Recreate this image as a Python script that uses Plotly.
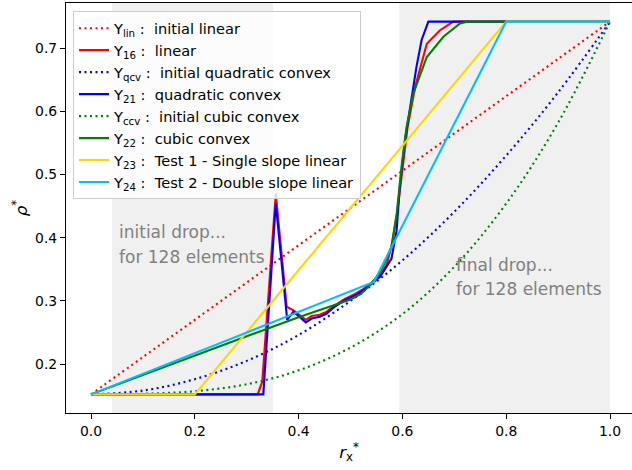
import plotly.graph_objects as go

# ---------------- data ----------------
x_init = [0.0, 0.1, 0.2, 0.3, 0.4, 0.5, 0.6, 0.7, 0.8, 0.9, 1.0]
y_lin = [0.152, 0.211, 0.270, 0.329, 0.388, 0.447, 0.506, 0.565, 0.624, 0.683, 0.742]
y_qcv = [0.152, 0.158, 0.176, 0.205, 0.246, 0.300, 0.364, 0.441, 0.530, 0.630, 0.742]
y_ccv = [0.152, 0.153, 0.157, 0.168, 0.190, 0.226, 0.279, 0.354, 0.454, 0.582, 0.742]

x16 = [0.0, 0.321, 0.330, 0.356, 0.377, 0.390, 0.414, 0.425, 0.441, 0.454, 0.470, 0.489,
       0.509, 0.525, 0.538, 0.557, 0.570, 0.580, 0.590, 0.600, 0.610, 0.625, 0.647, 0.672,
       0.698, 1.0]
y16 = [0.152, 0.152, 0.172, 0.470, 0.291, 0.285, 0.270, 0.276, 0.278, 0.283, 0.293, 0.303,
       0.311, 0.319, 0.327, 0.341, 0.358, 0.390, 0.440, 0.510, 0.575, 0.640, 0.707, 0.728,
       0.742, 0.742]

x21 = [0.0, 0.332, 0.356, 0.378, 0.390, 0.414, 0.425, 0.441, 0.454, 0.470, 0.489, 0.509,
       0.525, 0.538, 0.557, 0.570, 0.579, 0.589, 0.595, 0.605, 0.615, 0.627, 0.637, 0.650, 1.0]
y21 = [0.152, 0.152, 0.454, 0.270, 0.283, 0.266, 0.272, 0.275, 0.280, 0.291, 0.301, 0.309,
       0.317, 0.325, 0.338, 0.355, 0.367, 0.412, 0.481, 0.554, 0.607, 0.670, 0.713, 0.742, 0.742]

x22 = [0.0, 0.1, 0.2, 0.3, 0.4, 0.5, 0.52, 0.538, 0.555, 0.566, 0.579, 0.589, 0.599, 0.608,
       0.621, 0.647, 0.679, 0.711, 0.725, 1.0]
y22 = [0.152, 0.183, 0.214, 0.244, 0.274, 0.302, 0.311, 0.325, 0.343, 0.360, 0.386, 0.438,
       0.517, 0.575, 0.628, 0.686, 0.718, 0.739, 0.742, 0.742]

x23 = [0.0, 0.2, 0.8, 1.0]
y23 = [0.152, 0.152, 0.742, 0.742]

x24 = [0.0, 0.545, 0.8, 1.0]
y24 = [0.152, 0.330, 0.742, 0.742]

names = [
    "Y<sub>lin</sub> :  initial linear",
    "Y<sub>16</sub> :  linear",
    "Y<sub>qcv</sub> :  initial quadratic convex",
    "Y<sub>21</sub> :  quadratic convex",
    "Y<sub>ccv</sub> :  initial cubic convex",
    "Y<sub>22</sub> :  cubic convex",
    "Y<sub>23</sub> :  Test 1 - Single slope linear",
    "Y<sub>24</sub> :  Test 2 - Double slope linear",
]

shade_initial = [0.0405, 0.351]
shade_final = [0.594, 1.0]
xticks = [0.0, 0.2, 0.4, 0.6, 0.8, 1.0]
yticks = [0.2, 0.3, 0.4, 0.5, 0.6, 0.7]

# ---------------- figure ----------------
FONT = "DejaVu Sans"
DOT = "2px,3.5px"
LW = 2.1

series = [
    (x_init, y_lin, "#ff0000", DOT, "spline"),
    (x16, y16, "#ff0000", "solid", "linear"),
    (x_init, y_qcv, "#0000ff", DOT, "spline"),
    (x21, y21, "#0000ff", "solid", "linear"),
    (x_init, y_ccv, "#008000", DOT, "spline"),
    (x22, y22, "#008000", "solid", "linear"),
    (x23, y23, "#ffd700", "solid", "linear"),
    (x24, y24, "#00bfff", "solid", "linear"),
]

fig = go.Figure()
for (xs, ys, col, dash, shape), nm in zip(series, names):
    fig.add_trace(go.Scatter(
        x=xs, y=ys, mode="lines", name=nm,
        line=dict(color=col, width=LW, dash=dash, shape=shape),
    ))

for x0, x1 in (shade_initial, shade_final):
    fig.add_shape(type="rect", xref="x", yref="paper", x0=x0, x1=x1, y0=0, y1=1,
                  fillcolor="#f0f0f0", line=dict(width=0), layer="below")

gray = "#808080"
for tx, ty, txt in [(0.0495, 0.409, "initial drop..."), (0.0495, 0.369, "for 128 elements"),
                    (0.700, 0.3566, "final drop..."), (0.700, 0.318, "for 128 elements")]:
    fig.add_annotation(x=tx, y=ty, xref="x", yref="y", text=txt, showarrow=False,
                       xanchor="left", yanchor="middle",
                       font=dict(family=FONT, size=17, color=gray))

fig.update_layout(
    width=632, height=470, autosize=False,
    margin=dict(l=66, r=0, t=3, b=57),
    paper_bgcolor="white", plot_bgcolor="white",
    font=dict(family=FONT, size=13.9, color="black"),
    showlegend=True,
    legend=dict(x=0.0124, y=0.98, xanchor="left", yanchor="top",
                bgcolor="rgba(255,255,255,0.8)", bordercolor="#cccccc", borderwidth=1,
                font=dict(family=FONT, size=14.6, color="black"),
                tracegroupgap=0),
    xaxis=dict(range=[-0.0482, 1.0424], tickvals=xticks, tickformat=".1f",
               showgrid=False, zeroline=False, showline=True, linecolor="black",
               linewidth=1.1, mirror=True, ticks="outside", ticklen=5, tickwidth=1,
               tickcolor="black",
               title=dict(text="<i>r</i><sub>x</sub><sup>*</sup>",
                          font=dict(family=FONT, size=16.7), standoff=8)),
    yaxis=dict(range=[0.1225, 0.7715], tickvals=yticks, tickformat=".1f",
               showgrid=False, zeroline=False, showline=True, linecolor="black",
               linewidth=1.1, mirror=False, ticks="outside", ticklen=5, tickwidth=1,
               tickcolor="black",
               title=dict(text="<i>ρ</i><sup>*</sup>",
                          font=dict(family=FONT, size=16.7), standoff=3)),
)

fig.write_html("out.html")
